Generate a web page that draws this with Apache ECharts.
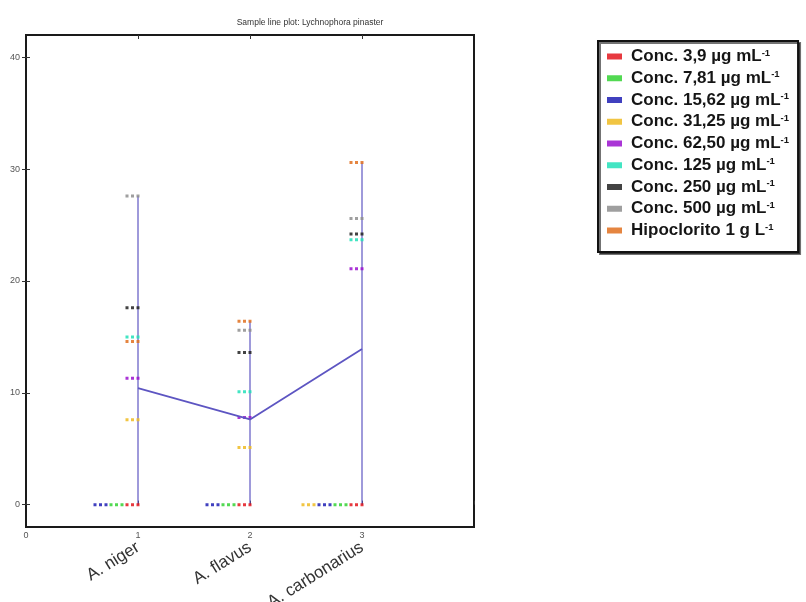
<!DOCTYPE html>
<html>
<head>
<meta charset="utf-8">
<script src="https://cdn.jsdelivr.net/npm/echarts@6/dist/echarts.min.js"></script>
<style>
  html, body { margin: 0; padding: 0; background: #fff; overflow: hidden; }
  #chart { width: 806px; height: 602px; }
</style>
</head>
<body>
<div id="chart"></div>
<script>
// Fungal species and their positions on the x scale
const categories = ['A. niger', 'A. flavus', 'A. carbonarius'];
const categoryPositions = [1, 2, 3];

// Treatment names (unit exponent is added as a superscript in the legend)
const seriesNames = [
  'Conc. 3,9 µg mL',
  'Conc. 7,81 µg mL',
  'Conc. 15,62 µg mL',
  'Conc. 31,25 µg mL',
  'Conc. 62,50 µg mL',
  'Conc. 125 µg mL',
  'Conc. 250 µg mL',
  'Conc. 500 µg mL',
  'Hipoclorito 1 g L'
];
const seriesColors = ['#e3161d', '#34d234', '#1f1fb4', '#eebb22', '#9b12cf', '#22e0b8', '#222222', '#8e8e8e', '#e0701e'];

// Values per species (A. niger, A. flavus, A. carbonarius)
const conc3_9 = [0, 0, 0];
const conc7_81 = [0, 0, 0];
const conc15_62 = [0, 0, 0];
const conc31_25 = [7.6, 5.1, 0];
const conc62_50 = [11.3, 7.8, 21.1];
const conc125 = [15.0, 10.1, 23.7];
const conc250 = [17.6, 13.6, 24.2];
const conc500 = [27.6, 15.6, 25.6];
const hipoclorito = [14.6, 16.4, 30.6];

// Axis ticks
const xTickLabels = [0, 1, 2, 3];
const yTickValues = [0, 10, 20, 30, 40];

const seriesValues = [conc3_9, conc7_81, conc15_62, conc31_25, conc62_50, conc125, conc250, conc500, hipoclorito];

// Mean over all treatments for each species, and the highest value (vertical stem)
const means = categoryPositions.map((p, j) => {
  let s = 0;
  seriesValues.forEach(v => { s += v[j]; });
  return [p, s / seriesValues.length];
});
const maxima = categoryPositions.map((p, j) => [p, Math.max(...seriesValues.map(v => v[j]))]);

// Three-dot dash marker; tied values are stacked leftwards from the stem
const dotSymbol = 'path://M0,0h3v3h-3zM5.5,0h3v3h-3zM11,0h3v3h-3z';
const GROUP_PITCH = 16;

const dotSeries = seriesValues.map((vals, i) => ({
  name: seriesNames[i],
  type: 'scatter',
  symbol: dotSymbol,
  symbolSize: [14, 3],
  itemStyle: { color: seriesColors[i], opacity: 0.85 },
  z: 3,
  data: categoryPositions.map((p, j) => {
    let rank = 0;
    for (let k = 0; k < i; k++) {
      if (seriesValues[k][j] === vals[j]) rank++;
    }
    return { value: [p, vals[j]], symbolOffset: [-5.5 - GROUP_PITCH * rank, 0] };
  })
}));

const lineColor = '#5d55c2';

const chart = echarts.init(document.getElementById('chart'), null, { renderer: 'canvas', width: 806, height: 602 });
chart.setOption({
  backgroundColor: '#ffffff',
  animation: false,
  title: {
    text: 'Sample line plot: Lychnophora pinaster',
    left: 305,
    top: 13,
    textAlign: 'center',
    textStyle: { fontFamily: 'Liberation Sans', fontSize: 8.5, fontWeight: 'normal', color: '#333' }
  },
  grid: {
    left: 26, top: 35, width: 448, height: 492,
    outerBoundsMode: 'none',
    show: true, borderColor: '#1a1a1a', borderWidth: 2, backgroundColor: '#fff'
  },
  legend: {
    orient: 'vertical',
    left: 598,
    top: 41,
    data: seriesNames,
    icon: 'rect',
    itemWidth: 15,
    itemHeight: 6,
    itemGap: 4.75,
    padding: [7, 9, 13, 9],
    borderColor: '#111',
    borderWidth: 2,
    backgroundColor: '#fff',
    shadowColor: 'rgba(0,0,0,0.55)',
    shadowOffsetX: 2,
    shadowOffsetY: 2,
    shadowBlur: 0,
    formatter: name => name + '{sup|-1}',
    textStyle: {
      fontFamily: 'Liberation Sans',
      fontWeight: 'bold',
      fontSize: 17,
      lineHeight: 17,
      padding: [0, 0, 0, 4],
      color: '#151515',
      rich: {
        sup: { fontFamily: 'Liberation Sans', fontWeight: 'bold', fontSize: 9.5, lineHeight: 17, verticalAlign: 'top', color: '#151515' }
      }
    }
  },
  xAxis: [
    {
      type: 'value', min: 0, max: 4, interval: 1, position: 'bottom',
      axisLine: { show: false },
      splitLine: { show: false },
      axisTick: { show: true, inside: true, length: 4, lineStyle: { color: '#333' } },
      axisLabel: {
        customValues: xTickLabels, margin: 4,
        fontFamily: 'Liberation Sans', fontSize: 9, color: '#555'
      }
    },
    {
      type: 'value', min: 0, max: 4, interval: 1, position: 'bottom',
      axisLine: { show: false }, axisTick: { show: false }, splitLine: { show: false },
      axisLabel: {
        customValues: categoryPositions, rotate: 32, margin: 19,
        fontFamily: 'Liberation Sans', fontSize: 17, color: '#333',
        formatter: v => categories[categoryPositions.indexOf(v)] || ''
      }
    },
    {
      type: 'value', min: 0, max: 4, interval: 1, position: 'top',
      axisLine: { show: false }, splitLine: { show: false }, axisLabel: { show: false },
      axisTick: { show: true, inside: true, length: 4, customValues: categoryPositions, lineStyle: { color: '#333' } }
    }
  ],
  yAxis: [
    {
      type: 'value', min: -2, max: 42, position: 'left',
      axisLine: { show: false },
      splitLine: { show: false },
      axisTick: { show: true, inside: true, length: 4, customValues: yTickValues, lineStyle: { color: '#333' } },
      axisLabel: {
        customValues: yTickValues, margin: 6,
        fontFamily: 'Liberation Sans', fontSize: 9, color: '#555'
      }
    },
    {
      type: 'value', min: -2, max: 42, position: 'right',
      axisLine: { show: false }, splitLine: { show: false }, axisLabel: { show: false },
      axisTick: { show: true, inside: true, length: 4, customValues: yTickValues, lineStyle: { color: '#333' } }
    }
  ],
  series: [
    {
      name: 'stems',
      type: 'custom',
      xAxisIndex: 0, yAxisIndex: 0,
      z: 2,
      renderItem: (params, api) => {
        const p0 = api.coord([api.value(0), 0]);
        const p1 = api.coord([api.value(0), api.value(1)]);
        return {
          type: 'line',
          shape: { x1: p0[0], y1: p0[1], x2: p1[0], y2: p1[1] },
          style: { stroke: lineColor, lineWidth: 1.6, opacity: 0.75 }
        };
      },
      data: maxima
    },
    {
      name: 'mean',
      type: 'line',
      xAxisIndex: 0, yAxisIndex: 0,
      z: 4,
      symbol: 'none',
      lineStyle: { color: lineColor, width: 1.8 },
      data: means
    },
    ...dotSeries
  ]
});
</script>
</body>
</html>
